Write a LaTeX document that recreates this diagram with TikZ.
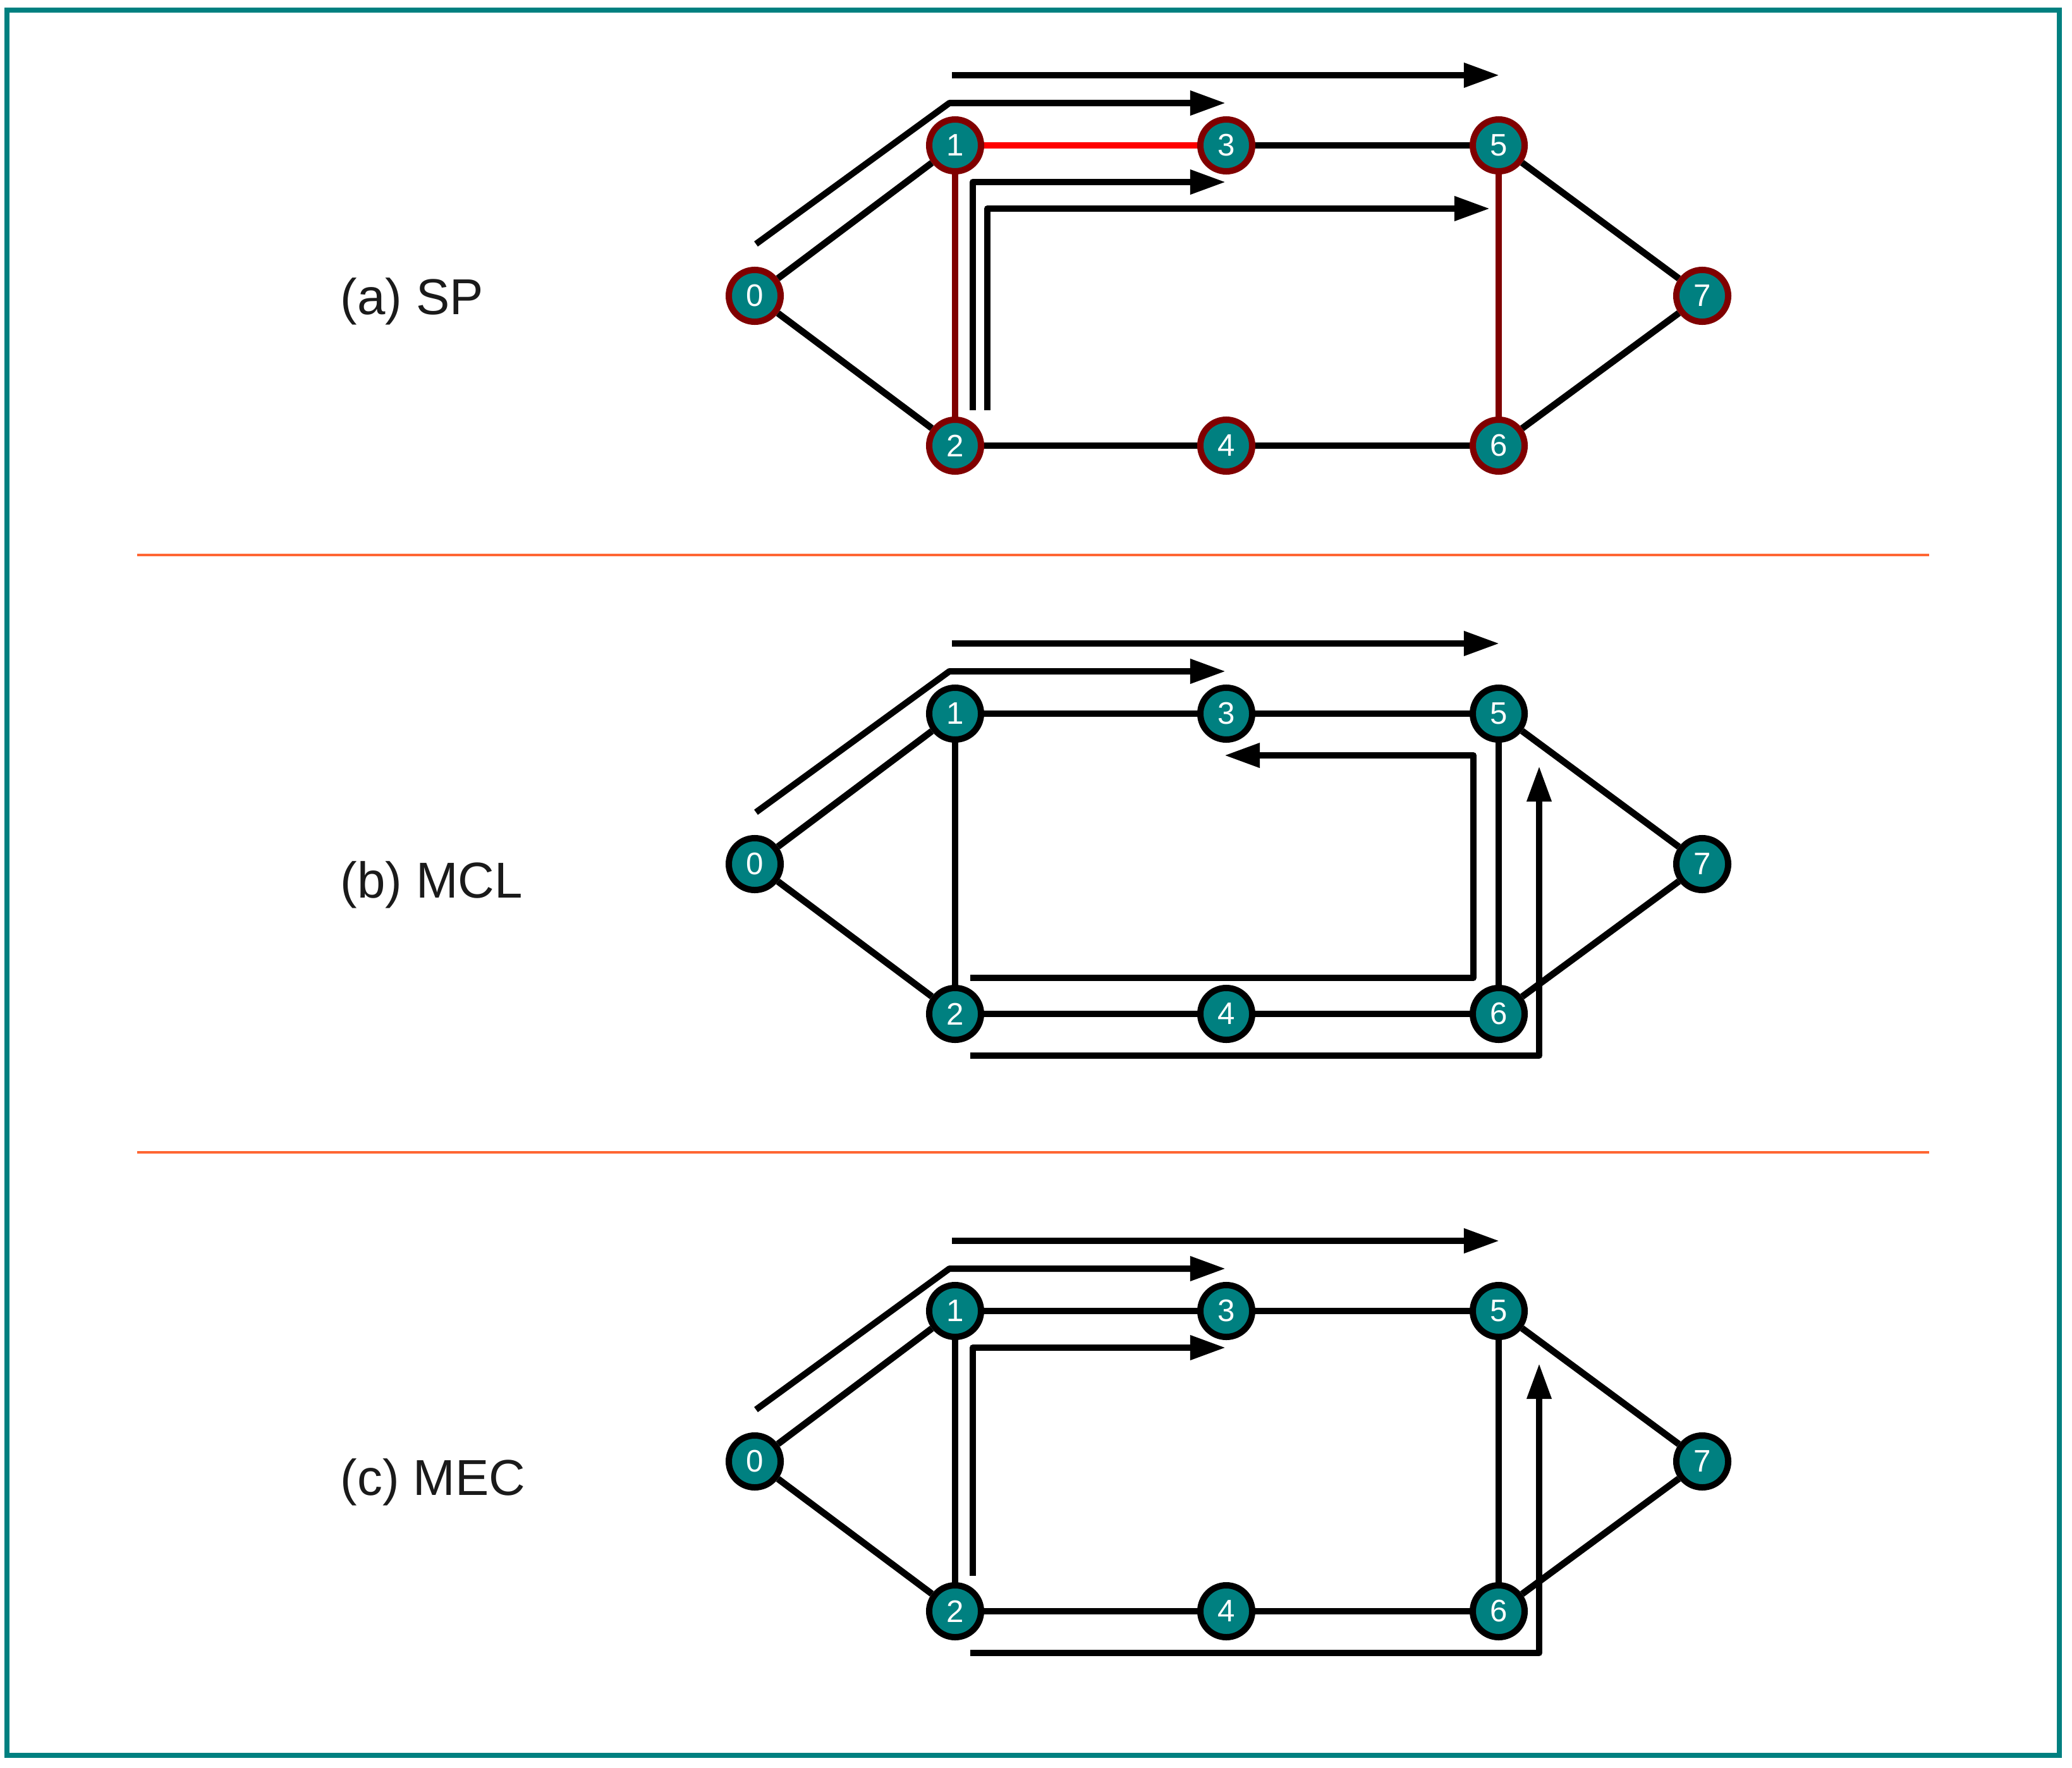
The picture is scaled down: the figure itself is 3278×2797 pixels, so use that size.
\documentclass[tikz,border=0pt]{standalone}
\usepackage{fontspec}
\setmainfont{Liberation Sans}
\usetikzlibrary{arrows.meta}
\definecolor{tealc}{HTML}{008080}
\definecolor{dred}{HTML}{800000}
\definecolor{sepc}{HTML}{FF6633}
\definecolor{txt}{HTML}{1A1A1A}
\begin{document}
\begin{tikzpicture}[x=0.01cm,y=-0.01cm,
 vtx/.style={circle, fill=tealc, draw=black, line width=0.1cm, minimum size=0.82cm, inner sep=0pt, text=white, font=\fontsize{14}{14}\selectfont},
 vtxa/.style={vtx, draw=dred},
 edge/.style={line width=0.105cm, black},
 route/.style={line width=0.1cm, black, line join=round},
 routearr/.style={route, -{Triangle[length=0.56cm,width=0.37cm]}},
 lbl/.style={anchor=base west, text=txt, font=\fontsize{22.7}{27}\selectfont, inner sep=0pt},
 sepline/.style={line width=0.045cm, sepc},
 frameline/.style={line width=0.08cm, tealc}]
\useasboundingbox (0,0) rectangle (3278,2797);
\draw[frameline] (11,16) rectangle (3258,2777);

% separators
\coordinate (s1a) at (217,878); \coordinate (s1b) at (3052,878);
\coordinate (s2a) at (217,1823); \coordinate (s2b) at (3052,1823);
\draw[sepline] (s1a) -- (s1b);
\draw[sepline] (s2a) -- (s2b);

% labels
\node[lbl] (la) at (538,497) {(a) SP};
\node[lbl] (lb) at (538,1420) {(b) MCL};
\node[lbl] (lc) at (538,2365) {(c) MEC};

% ---------- panel (a)
\begin{scope}
\node[vtxa] (a0) at (1194,468) {0};
\node[vtxa] (a1) at (1511,230) {1};
\node[vtxa] (a2) at (1511,705) {2};
\node[vtxa] (a3) at (1940,230) {3};
\node[vtxa] (a4) at (1940,705) {4};
\node[vtxa] (a5) at (2371,230) {5};
\node[vtxa] (a6) at (2371,705) {6};
\node[vtxa] (a7) at (2693,468) {7};
\draw[edge] (a0) -- (a1);
\draw[edge] (a0) -- (a2);
\draw[edge] (a3) -- (a5);
\draw[edge] (a5) -- (a7);
\draw[edge] (a7) -- (a6);
\draw[edge] (a2) -- (a4);
\draw[edge] (a4) -- (a6);
\draw[edge, red] (a1) -- (a3);
\draw[edge, dred] (a1) -- (a2);
\draw[edge, dred] (a5) -- (a6);
\draw[routearr] (1506,119) -- (2372,119);
\draw[routearr] (1196,386) -- (1502,163) -- (1939,163);
\draw[routearr] (1539,649) -- (1539,288) -- (1939,288);
\draw[routearr] (1562,649) -- (1562,330) -- (2357,330);
\end{scope}

% ---------- panel (b)
\begin{scope}[shift={(0,899)}]
\node[vtx] (b0) at (1194,468) {0};
\node[vtx] (b1) at (1511,230) {1};
\node[vtx] (b2) at (1511,705) {2};
\node[vtx] (b3) at (1940,230) {3};
\node[vtx] (b4) at (1940,705) {4};
\node[vtx] (b5) at (2371,230) {5};
\node[vtx] (b6) at (2371,705) {6};
\node[vtx] (b7) at (2693,468) {7};
\draw[edge] (b0) -- (b1);
\draw[edge] (b0) -- (b2);
\draw[edge] (b1) -- (b3);
\draw[edge] (b3) -- (b5);
\draw[edge] (b1) -- (b2);
\draw[edge] (b5) -- (b7);
\draw[edge] (b7) -- (b6);
\draw[edge] (b2) -- (b4);
\draw[edge] (b4) -- (b6);
\draw[edge] (b5) -- (b6);
\draw[routearr] (1506,119) -- (2372,119);
\draw[routearr] (1196,386) -- (1502,163) -- (1939,163);
\draw[routearr] (1535,648) -- (2331,648) -- (2331,296) -- (1937,296);
\draw[routearr] (1535,771) -- (2435,771) -- (2435,313);
\end{scope}

% ---------- panel (c)
\begin{scope}[shift={(0,1844)}]
\node[vtx] (c0) at (1194,468) {0};
\node[vtx] (c1) at (1511,230) {1};
\node[vtx] (c2) at (1511,705) {2};
\node[vtx] (c3) at (1940,230) {3};
\node[vtx] (c4) at (1940,705) {4};
\node[vtx] (c5) at (2371,230) {5};
\node[vtx] (c6) at (2371,705) {6};
\node[vtx] (c7) at (2693,468) {7};
\draw[edge] (c0) -- (c1);
\draw[edge] (c0) -- (c2);
\draw[edge] (c1) -- (c3);
\draw[edge] (c3) -- (c5);
\draw[edge] (c1) -- (c2);
\draw[edge] (c5) -- (c7);
\draw[edge] (c7) -- (c6);
\draw[edge] (c2) -- (c4);
\draw[edge] (c4) -- (c6);
\draw[edge] (c5) -- (c6);
\draw[routearr] (1506,119) -- (2372,119);
\draw[routearr] (1196,386) -- (1502,163) -- (1939,163);
\draw[routearr] (1539,649) -- (1539,288) -- (1939,288);
\draw[routearr] (1535,771) -- (2435,771) -- (2435,313);
\end{scope}
\end{tikzpicture}
\end{document}
